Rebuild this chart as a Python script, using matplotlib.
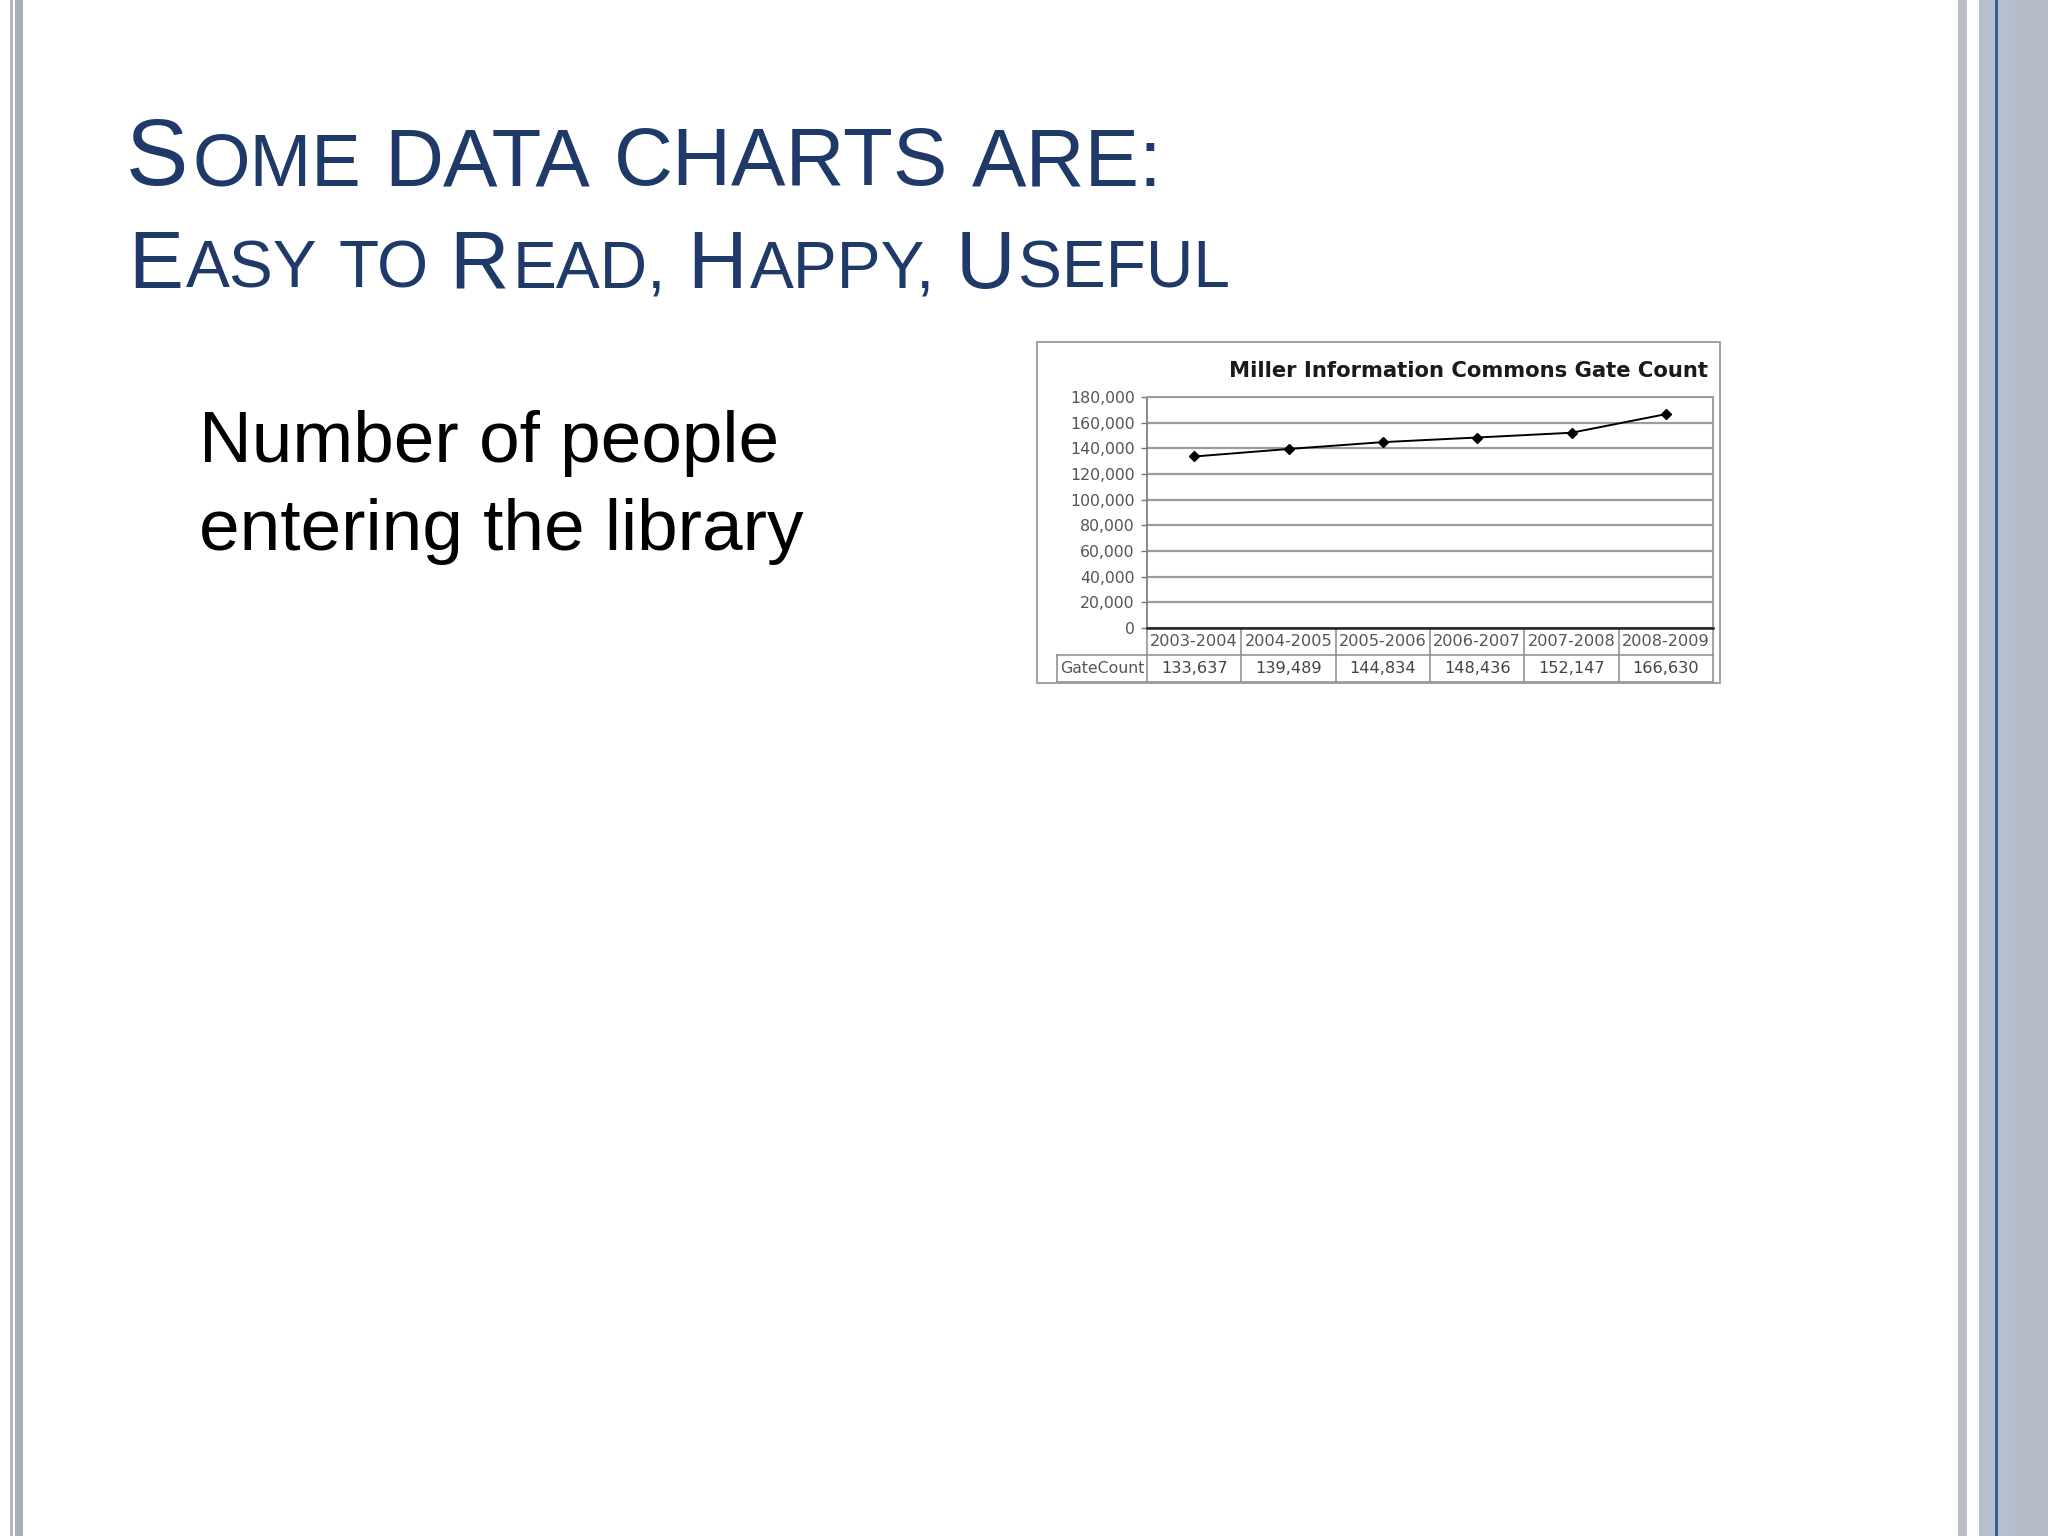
import numpy as np
import matplotlib
matplotlib.use('Agg')
import matplotlib.pyplot as plt
from matplotlib.patches import Rectangle
from matplotlib.ticker import FuncFormatter

# dados do grafico
anos = ['2003-2004', '2004-2005', '2005-2006', '2006-2007', '2007-2008', '2008-2009']
gate_count = [133637, 139489, 144834, 148436, 152147, 166630]
y_ticks = [0, 20000, 40000, 60000, 80000, 100000, 120000, 140000, 160000, 180000]

titulo1 = 'Some DATA CHARTS ARE:'
titulo2 = 'Easy to Read, Happy, Useful'
texto = ['Number of people', 'entering the library']
titulo_grafico = 'Miller Information Commons Gate Count'
rotulo_linha = 'GateCount'

W, H = 2048, 1536
azul = '#1f3a68'

fig = plt.figure(figsize=(W / 100, H / 100), dpi=100)
fig.patch.set_facecolor('white')
renderer = fig.canvas.get_renderer()


def fx(x):
    return x / W


def fy(y):
    return 1 - y / H


def barra(x0, x1, cor):
    fig.patches.append(Rectangle((fx(x0), 0), (x1 - x0) / W, 1, transform=fig.transFigure,
                                 facecolor=cor, edgecolor='none', zorder=0))


# bordas do slide
barra(10, 13, '#b3b6c9')
barra(15, 23, '#a9adba')
barra(1958, 1967, '#b9bdc8')
barra(1979, 2015, '#b5bfcf')
barra(1995, 1998, '#2f6395')
barra(2015, 2048, '#b6bbc9')


def small_caps(frase, x, y, grande, pequeno, medio):
    # maiuscula inicial = grande, minuscula = versalete, palavra toda em maiusculas = medio
    esp = pequeno * 100 / 72 * 0.278
    for palavra in frase.split(' '):
        todo_maiusc = palavra.isupper() and len(palavra) > 1
        partes = []
        for ch in palavra:
            if todo_maiusc:
                tam = medio
            elif ch.isupper():
                tam = grande
            else:
                tam = pequeno
            if partes and partes[-1][1] == tam:
                partes[-1][0] += ch.upper()
            else:
                partes.append([ch.upper(), tam])
        for s, tam in partes:
            t = fig.text(fx(x), fy(y), s, fontsize=tam, color=azul, family='Liberation Sans',
                         va='baseline', ha='left')
            bb = t.get_window_extent(renderer)
            x += bb.width + tam * 100 / 72 * 0.04
        x += esp


small_caps(titulo1, 126, 185, 67.4, 53.3, 58.8)
small_caps(titulo2, 128, 288, 59.3, 47.3, 59.3)

fig.text(fx(199), fy(462), texto[0], fontsize=52.6, family='Liberation Sans', va='baseline', ha='left')
fig.text(fx(199), fy(550), texto[1], fontsize=52.6, family='Liberation Sans', va='baseline', ha='left')

# grafico
x0, x1, ytop, ybot = 1147, 1713, 397, 628
ax = fig.add_axes([fx(x0), fy(ybot), (x1 - x0) / W, (ybot - ytop) / H])
x = np.arange(len(anos))
ax.plot(x, gate_count, color='black', lw=1.4, marker='D', ms=5, zorder=3)
ax.set_xlim(-0.5, len(anos) - 0.5)
ax.set_ylim(0, 180000)
ax.set_yticks(y_ticks)
ax.yaxis.set_major_formatter(FuncFormatter(lambda v, p: f'{int(v):,}'))
ax.set_xticks([])
ax.grid(axis='y', color='#9c9c9c', lw=1.6)
ax.tick_params(axis='y', length=4, width=1, color='#777777', pad=5, labelsize=11.3, labelcolor='#555555')
ax.spines['left'].set_color('#777777')
ax.spines['right'].set_color('#9c9c9c')
ax.spines['top'].set_color('#9c9c9c')
ax.spines['bottom'].set_color('#222222')
ax.spines['bottom'].set_linewidth(1.8)
ax.spines['left'].set_linewidth(1.2)
ax.spines['right'].set_linewidth(1.4)
ax.spines['top'].set_linewidth(1.4)

# tabela abaixo do eixo
lin1 = (655 - ybot) / (ybot - ytop)
lin2 = (682 - ybot) / (ybot - ytop)
trans = ax.get_xaxis_transform()
for i in range(len(anos) + 1):
    ax.plot([i - 0.5, i - 0.5], [0, -lin2], transform=trans, color='#8a8a8a', lw=1.1, clip_on=False)
for i, (ano, v) in enumerate(zip(anos, gate_count)):
    ax.text(i, -lin1 / 2, ano, transform=trans, ha='center', va='center', fontsize=11.6,
            color='#555555')
    ax.text(i, -(lin1 + lin2) / 2, f'{v:,}', transform=trans, ha='center', va='center', fontsize=11.6,
            color='#444444')
esq = -0.5 - (x0 - 1057) / ((x1 - x0) / len(anos))
for yy in [-lin1, -lin2]:
    ax.plot([esq, len(anos) - 0.5], [yy, yy], transform=trans, color='#8a8a8a', lw=1.1, clip_on=False)
ax.plot([esq, esq], [-lin1, -lin2], transform=trans, color='#8a8a8a', lw=1.1, clip_on=False)
ax.text((esq - 0.5) / 2, -(lin1 + lin2) / 2, rotulo_linha, transform=trans, ha='center', va='center',
        fontsize=11.3, color='#555555')

# moldura e titulo do grafico
fig.patches.append(Rectangle((fx(1037), fy(683)), (1720 - 1037) / W, (683 - 342) / H,
                             transform=fig.transFigure, facecolor='none', edgecolor='#9a9a9a', lw=1.3))
fig.text(fx(1708), fy(377), titulo_grafico, fontsize=15.2, fontweight='bold', color='#1a1a1a',
         ha='right', va='baseline')

fig.savefig('out.png', dpi=100, facecolor='white')
